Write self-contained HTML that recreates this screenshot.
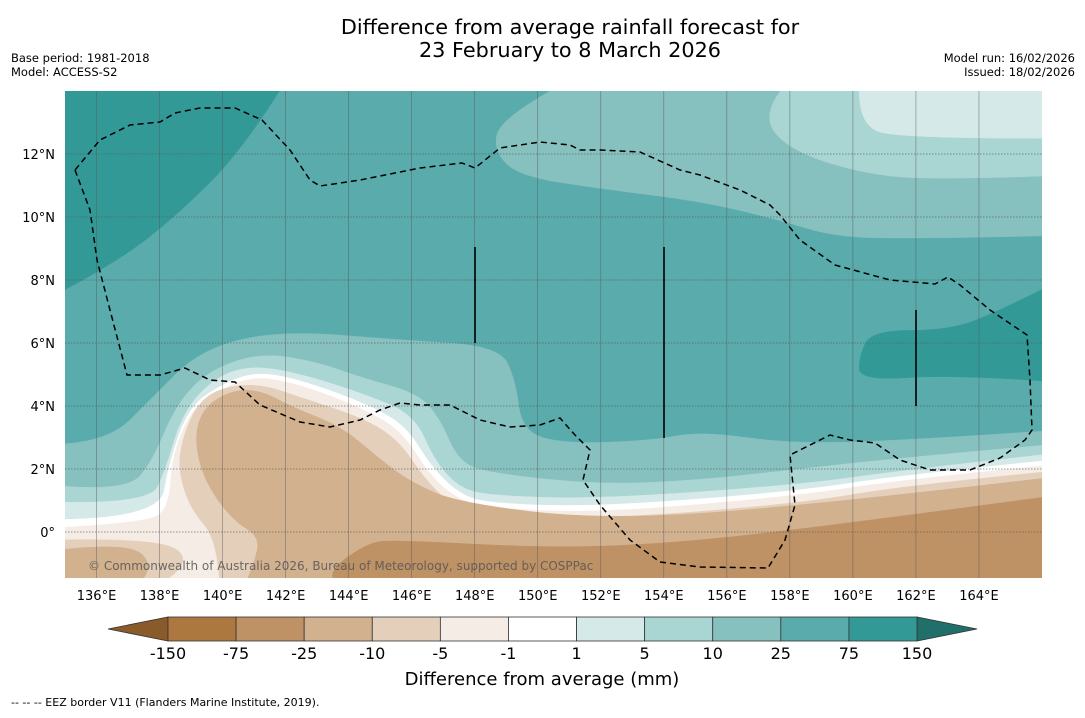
<!DOCTYPE html>
<html><head><meta charset="utf-8">
<style>
body{margin:0;background:#fff;width:1085px;height:713px;overflow:hidden;font-family:"Liberation Sans","DejaVu Sans",sans-serif;}
svg text{font-family:"DejaVu Sans","Liberation Sans",sans-serif;}
</style></head>
<body>
<svg id="chart" width="1085" height="713" xmlns="http://www.w3.org/2000/svg">
<text x="570" y="34" font-size="20.8" text-anchor="middle">Difference from average rainfall forecast for</text>
<text x="570" y="57" font-size="20.8" text-anchor="middle">23 February to 8 March 2026</text>
<text x="11" y="62" font-size="11.5">Base period: 1981-2018</text>
<text x="11" y="76" font-size="11.5">Model: ACCESS-S2</text>
<text x="1075" y="62" font-size="11.5" text-anchor="end">Model run: 16/02/2026</text>
<text x="1075" y="76" font-size="11.5" text-anchor="end">Issued: 18/02/2026</text>
<defs><clipPath id="pc"><rect x="65" y="91" width="977" height="487"/></clipPath></defs>
<g id="plot" clip-path="url(#pc)"></g>
<g id="axes"></g>
<g id="cbar"></g>
<text x="542" y="685" font-size="18" text-anchor="middle">Difference from average (mm)</text>
<text x="11" y="706" font-size="11">--  --  -- EEZ border V11 (Flanders Marine Institute, 2019).</text>
</svg>
<script>
const NS="http://www.w3.org/2000/svg";
const lonMin=135, lonMax=166, latMin=-1.46, latMax=14;
const lonTicks=[136,138,140,142,144,146,148,150,152,154,156,158,160,162,164];
const latTicks=[0,2,4,6,8,10,12];
const levelLabels=["-150","-75","-25","-10","-5","-1","1","5","10","25","75","150"];
const levelColors=["#ad7740","#bf9266","#d2b18f","#e4cfba","#f5ece6","#ffffff","#d4e9e8","#a9d5d3","#86c0bf","#5aabab","#339997"];
const baseLevel="#5aabab";
const regionTopLeft=[[135,14],[141.8,14],[140.6,12.1],[138.6,10.1],[136.7,8.6],[135,7.7]];
const regionRightHigh=[[166,7.7],[164.7,7.05],[163.1,6.4],[160.6,6.4],[160.2,5.6],[160.2,4.8],[163.1,5.0],[166,4.8]];
const regionNE10=[[150.4,14],[148.8,13.1],[148.6,12.1],[149.4,11.3],[152,10.9],[155.2,10.5],[157.7,9.9],[159.3,9.4],[161.5,9.3],[166,9.4],[166,14]];
const regionNE5=[[157.7,14],[157.1,13.2],[158,12.1],[160.6,11.3],[163.1,11.2],[166,11.3],[166,14]];
const regionNE1=[[160.2,14],[160.2,12.9],[161.5,12.5],[166,12.5],[166,14]];
const south10=[[135,2.8],[136.4,2.9],[137.7,4.2],[139.3,5.8],[141.8,6.4],[145.6,6.1],[148.8,5.9],[149.3,4.8],[149.5,3.2],[150.8,2.8],[153.6,2.9],[155.2,3.2],[158,2.8],[161.5,2.9],[166,3.2],[166,-1.46],[135,-1.46]];
const south5=[[135,1.45],[137,1.3],[137.8,2.3],[138.5,4.0],[139.5,5.1],[141.2,5.7],[143,5.4],[144.4,4.9],[146.2,4.4],[146.9,3.6],[147.5,2.2],[148.6,1.85],[152,1.5],[155.2,1.65],[158.3,2.0],[161.5,2.35],[166,2.75],[166,-1.46],[135,-1.46]];
const south1=[[135,0.95],[137.7,0.9],[138.2,2.0],[138.7,3.7],[139.6,4.8],[140.8,5.3],[142.4,5.05],[144.6,4.35],[146.1,3.7],[146.7,2.3],[147.5,1.4],[148.5,1.15],[152,1.05],[158.3,1.5],[161.5,1.95],[166,2.45],[166,-1.46],[135,-1.46]];
const southW=[[135,0.4],[138,0.45],[138.3,2.2],[138.9,3.9],[139.8,4.6],[141,5.1],[142.4,4.85],[144.5,4.1],[145.8,3.4],[146.6,2.1],[147.5,1.2],[148.5,0.9],[152,0.8],[158.3,1.3],[161.5,1.8],[166,2.25],[166,-1.46],[135,-1.46]];
const southM5=[[135,0.15],[137.5,0.3],[138.3,0.7],[138.4,2.5],[139.1,4.0],[140,4.55],[141,4.95],[142.4,4.7],[144.4,3.95],[145.7,3.2],[146.5,1.9],[147.4,1.05],[148.5,0.75],[152,0.6],[158.3,1.15],[161.5,1.65],[166,2.1],[166,-1.46],[135,-1.46]];
const southM10a=[[135,-0.25],[138,-0.2],[139.05,-0.9],[138.3,-1.46],[135,-1.46]];
const southM25a=[[135,-0.55],[137,-0.35],[137.8,-1.0],[137.5,-1.46],[135,-1.46]];
const southM10=[[139.9,-1.46],[139.8,-0.2],[139.0,0.7],[138.6,1.9],[138.7,2.9],[139.2,4.1],[140,4.6],[141.2,4.7],[142.4,4.3],[144.5,3.6],[145.6,2.9],[146.4,1.7],[147.2,0.9],[148.5,0.55],[152,0.4],[158.3,0.9],[161.5,1.45],[166,1.9],[166,-1.46]];
const southM25=[[140.8,-1.46],[141.0,-1.0],[141.2,-0.16],[140.3,0.38],[139.4,1.65],[139.1,3.0],[139.4,3.97],[140.3,4.5],[141.2,4.5],[142.2,3.97],[143.8,3.33],[144.9,2.38],[146,1.56],[147.5,0.92],[152,0.38],[158.3,0.8],[166,1.7],[166,-1.46]];
const southM75=[[143.5,-1.46],[143.4,-1.2],[144.6,-0.35],[145.4,-0.25],[150.1,-0.5],[153.6,-0.41],[158.3,0.06],[166,1.1],[166,-1.46]];
const layers=[[regionTopLeft,"#339997","region-75-150-northwest"],[regionRightHigh,"#339997","region-75-150-east"],[regionNE10,"#86c0bf","region-10-25-northeast"],[regionNE5,"#a9d5d3","region-5-10-northeast"],[regionNE1,"#d4e9e8","region-1-5-northeast"],[south10,"#86c0bf","region-10-25-south"],[south5,"#a9d5d3","region-5-10-south"],[south1,"#d4e9e8","region-1-5-south"],[southW,"#ffffff","region-near-zero-south"],[southM5,"#f5ece6","region-minus5-south"],[southM10a,"#e4cfba","region-minus10-southwest"],[southM25a,"#d2b18f","region-minus25-southwest"],[southM10,"#e4cfba","region-minus10-south"],[southM25,"#d2b18f","region-minus25-south"],[southM75,"#bf9266","region-minus75-south"]];
const X0=65,X1=1042,Y0=91,Y1=578;
function xS(lon){return X0+(lon-lonMin)/(lonMax-lonMin)*(X1-X0);}
function yS(lat){return Y0+(latMax-lat)/(latMax-latMin)*(Y1-Y0);}
function mk(t,a,p){const e=document.createElementNS(NS,t);for(const k in a)e.setAttribute(k,a[k]);p.appendChild(e);return e;}
function onEdge(q){return q[0]<=lonMin||q[0]>=lonMax||q[1]>=latMax||q[1]<=latMin;}
function smoothPath(pts){
  const P=pts.map(q=>[xS(q[0]),yS(q[1]),onEdge(q)]);
  let d="M"+P[0][0].toFixed(1)+","+P[0][1].toFixed(1);
  for(let i=1;i<P.length;i++){
    const p=P[i],n=P[i+1];
    if(p[2]||!n){d+=" L"+p[0].toFixed(1)+","+p[1].toFixed(1);}
    else{
      const mx=(p[0]+n[0])/2,my=(p[1]+n[1])/2;
      d+=" Q"+p[0].toFixed(1)+","+p[1].toFixed(1)+" "+(n[2]?n[0]:mx).toFixed(1)+","+(n[2]?n[1]:my).toFixed(1);
    }
  }
  return d+" Z";
}
const plot=document.getElementById('plot');
let bg=mk('rect',{x:X0,y:Y0,width:X1-X0,height:Y1-Y0,fill:baseLevel},plot);


layers.forEach(L=>{
  const p=mk('path',{d:smoothPath(L[0]),fill:L[1],stroke:L[1],'stroke-width':0.5},plot);
  
  
});
lonTicks.forEach(l=>{const g=mk('line',{x1:xS(l),x2:xS(l),y1:Y0,y2:Y1,stroke:"#555",'stroke-width':0.6,'stroke-opacity':0.7},plot);

});
latTicks.forEach(l=>{const g=mk('line',{x1:X0,x2:X1,y1:yS(l),y2:yS(l),stroke:"#555",'stroke-width':0.8,'stroke-dasharray':"1.5,1.5",'stroke-opacity':0.8},plot);

});
const eez="M75,170 L90,210 L97,260 L110,310 L127,375 L160,375 L185,368 L210,380 L235,382 L260,405 L300,422 L330,427 L360,420 L380,410 L400,403 L420,405 L450,405 L480,420 L510,427 L540,425 L560,418 L575,435 L590,450 L583,480 L600,505 L630,540 L660,562 L700,567 L768,568 L785,540 L795,505 L790,455 L800,450 L830,435 L850,440 L875,443 L900,460 L930,470 L970,470 L1000,458 L1025,440 L1032,430 L1030,380 L1027,335 L990,310 L960,285 L948,277 L935,284 L890,280 L835,265 L800,240 L780,215 L770,205 L740,190 L700,175 L680,170 L640,152 L600,150 L580,150 L570,145 L540,142 L500,148 L475,168 L462,163 L420,168 L360,180 L320,186 L310,180 L290,150 L262,120 L235,108 L200,108 L175,113 L160,122 L130,125 L100,140 Z";
let ez=mk('path',{d:eez,fill:"none",stroke:"#000",'stroke-width':1.5,'stroke-dasharray':"6,4"},plot);


[[475,247,343],[664,247,438],[916,310,406]].forEach(v=>{const l=mk('line',{x1:v[0],x2:v[0],y1:v[1],y2:v[2],stroke:"#000",'stroke-width':1.6},plot);

});
let cp=mk('text',{x:88,y:570,'font-size':12,fill:"#555",'fill-opacity':0.85},plot);cp.textContent="© Commonwealth of Australia 2026, Bureau of Meteorology, supported by COSPPac";


const ax=document.getElementById('axes');
lonTicks.forEach(l=>{const t=mk('text',{x:xS(l),y:600,'font-size':13,'text-anchor':'middle'},ax);t.textContent=l+"°E";

});
latTicks.forEach(l=>{const t=mk('text',{x:55,y:yS(l)+5,'font-size':13,'text-anchor':'end'},ax);t.textContent=l===0?"0°":l+"°N";

});
const cb=document.getElementById('cbar');
const cx0=168,cx1=917,cy=617,ch=24,sw=(cx1-cx0)/levelColors.length;
let lt=mk('polygon',{points:`${cx0},${cy} ${cx0},${cy+ch} 108,${cy+ch/2}`,fill:"#8b5a2b",stroke:"#333",'stroke-width':0.8},cb);


let rt=mk('polygon',{points:`${cx1},${cy} ${cx1},${cy+ch} 977,${cy+ch/2}`,fill:"#216f6b",stroke:"#333",'stroke-width':0.8},cb);


levelColors.forEach((c,i)=>{const r=mk('rect',{x:cx0+i*sw,y:cy,width:sw,height:ch,fill:c,stroke:"#333",'stroke-width':0.8},cb);

});
levelLabels.forEach((s,i)=>{const t=mk('text',{x:cx0+i*sw,y:659,'font-size':16,'text-anchor':'middle'},cb);t.textContent=s;

});
</script>
</body></html>
